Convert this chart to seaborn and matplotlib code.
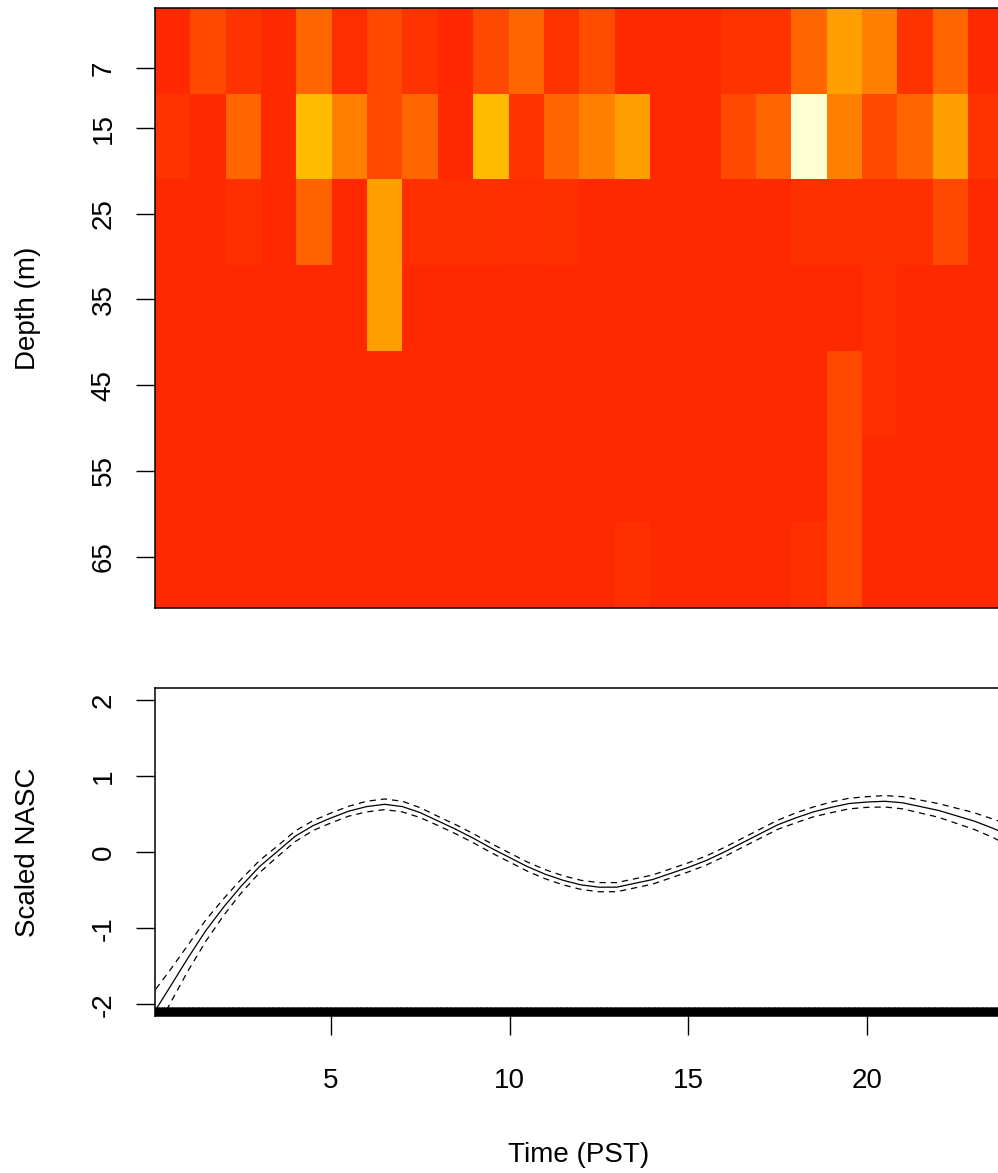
import numpy as np
import pandas as pd
import matplotlib
matplotlib.use("Agg")
import matplotlib.pyplot as plt
from matplotlib.colors import LinearSegmentedColormap
import seaborn as sns

# R heat.colors(12), the palette image() was drawn with
heat_colors = ["#FF0000", "#FF2000", "#FF4000", "#FF6000", "#FF8000", "#FF9F00",
               "#FFBF00", "#FFDF00", "#FFFF00", "#FFFF2A", "#FFFF80", "#FFFFD5"]

hours = list(range(24))
depth_bins = ["1-11", "11-21", "21-31", "31-41", "41-51", "51-61", "61-71"]
depth_labels = ["7", "15", "25", "35", "45", "55", "65"]
depth_tick_pos = [0.7, 1.4, 2.4, 3.4, 4.4, 5.4, 6.4]

# relative NASC per depth bin (0-1 colour scale)
nasc_d1 = [0.115, 0.21, 0.145, 0.12, 0.29, 0.13, 0.21, 0.145, 0.115, 0.21, 0.29, 0.145,
           0.22, 0.12, 0.12, 0.12, 0.145, 0.145, 0.29, 0.455, 0.365, 0.145, 0.29, 0.12]
nasc_d2 = [0.145, 0.12, 0.29, 0.12, 0.535, 0.365, 0.205, 0.29, 0.12, 0.535, 0.145, 0.29,
           0.365, 0.455, 0.12, 0.12, 0.205, 0.29, 1.0, 0.365, 0.205, 0.29, 0.455, 0.145]
nasc_d3 = [0.12, 0.12, 0.14, 0.12, 0.28, 0.12, 0.455, 0.14, 0.14, 0.14, 0.13, 0.14,
           0.12, 0.12, 0.12, 0.12, 0.12, 0.12, 0.14, 0.14, 0.14, 0.14, 0.205, 0.12]
nasc_d4 = [0.12, 0.12, 0.12, 0.12, 0.12, 0.12, 0.455, 0.12, 0.12, 0.12, 0.12, 0.12,
           0.12, 0.12, 0.12, 0.12, 0.12, 0.12, 0.12, 0.12, 0.13, 0.12, 0.12, 0.12]
nasc_d5 = [0.12, 0.12, 0.12, 0.12, 0.12, 0.12, 0.12, 0.12, 0.12, 0.12, 0.12, 0.12,
           0.12, 0.12, 0.12, 0.12, 0.12, 0.12, 0.12, 0.205, 0.13, 0.12, 0.12, 0.12]
nasc_d6 = [0.12, 0.12, 0.12, 0.12, 0.12, 0.12, 0.12, 0.12, 0.12, 0.12, 0.12, 0.12,
           0.12, 0.12, 0.12, 0.12, 0.12, 0.12, 0.12, 0.205, 0.12, 0.12, 0.12, 0.12]
nasc_d7 = [0.12, 0.12, 0.12, 0.12, 0.12, 0.12, 0.12, 0.12, 0.12, 0.12, 0.12, 0.12,
           0.12, 0.135, 0.12, 0.12, 0.12, 0.12, 0.135, 0.205, 0.12, 0.12, 0.12, 0.12]

# smooth fit of scaled NASC vs time, with its +/- 2 SE band
time_fit = [0.1, 0.5, 1.0, 1.5, 2.0, 2.5, 3.0, 3.5, 4.0, 4.5, 5.0, 5.5, 6.0, 6.5,
            7.0, 7.5, 8.0, 8.5, 9.0, 9.5, 10.0, 10.5, 11.0, 11.5, 12.0, 12.5, 13.0,
            13.5, 14.0, 14.5, 15.0, 15.5, 16.0, 16.5, 17.0, 17.5, 18.0, 18.5, 19.0,
            19.5, 20.0, 20.5, 21.0, 21.5, 22.0, 22.5, 23.0, 23.5, 24.0]
fit = [-2.07, -1.77, -1.39, -1.03, -0.72, -0.44, -0.19, 0.01, 0.21, 0.35, 0.45, 0.54,
       0.60, 0.63, 0.60, 0.52, 0.41, 0.30, 0.18, 0.05, -0.07, -0.19, -0.29, -0.37,
       -0.43, -0.46, -0.46, -0.41, -0.36, -0.28, -0.20, -0.11, 0.00, 0.12, 0.24, 0.36,
       0.45, 0.53, 0.59, 0.64, 0.66, 0.67, 0.65, 0.60, 0.55, 0.48, 0.41, 0.32, 0.22]
se2 = [0.27, 0.22, 0.17, 0.14, 0.11, 0.09, 0.08, 0.07, 0.07, 0.065, 0.065, 0.065,
       0.07, 0.07, 0.07, 0.065, 0.06, 0.06, 0.06, 0.06, 0.06, 0.06, 0.06, 0.06,
       0.06, 0.06, 0.06, 0.06, 0.06, 0.06, 0.06, 0.06, 0.06, 0.06, 0.06, 0.06,
       0.065, 0.065, 0.07, 0.07, 0.07, 0.075, 0.08, 0.085, 0.09, 0.1, 0.11, 0.12, 0.14]

# observation times (dense sampling, shows up as a solid rug)
obs_times = np.arange(0.0, 24.5, 0.02)

sns.set_theme(style="white")
plt.rcParams["font.family"] = ["Liberation Sans", "DejaVu Sans"]
plt.rcParams.update({"text.color": "black", "axes.labelcolor": "black",
                     "xtick.color": "black", "ytick.color": "black"})

W, H = 998, 1173
fig = plt.figure(figsize=(W / 100, H / 100), dpi=100)


def px_axes(left, top, right, bottom):
    return fig.add_axes([left / W, 1 - bottom / H, (right - left) / W, (bottom - top) / H])


# ---- top: depth x time heatmap ----
grid = pd.DataFrame([nasc_d1, nasc_d2, nasc_d3, nasc_d4, nasc_d5, nasc_d6, nasc_d7],
                    index=depth_bins, columns=hours)
cmap = LinearSegmentedColormap.from_list("heat", heat_colors)

ax1 = px_axes(155, 8, 155 + 24 * 35.35, 608)
sns.heatmap(grid, ax=ax1, cmap=cmap, vmin=0, vmax=1, cbar=False,
            xticklabels=False, yticklabels=False)
for s in ax1.spines.values():
    s.set_visible(True)
    s.set_color("black")
    s.set_linewidth(1.1)
ax1.set_yticks(depth_tick_pos)
ax1.set_yticklabels(depth_labels, rotation=90, va="center")
ax1.tick_params(axis="y", left=True, direction="out", length=13.5, width=1,
                pad=14, labelsize=20, color="black", labelcolor="black")
ax1.tick_params(axis="x", bottom=False)
ax1.set_xlabel("")
ax1.set_ylabel("Depth (m)", fontsize=20, va="center", color="black")
ax1.yaxis.set_label_coords((28 - 155) / (24 * 35.35), 0.5)

# ---- bottom: smooth of scaled NASC ----
x0_px, px_per_hr = 152.3, 35.73
xmin, xmax = 0.076, 24.5
ax2 = px_axes(155, 688, x0_px + xmax * px_per_hr, 1016.4)
sns.lineplot(x=time_fit, y=fit, ax=ax2, color="black", lw=0.9)
upper = [f + s for f, s in zip(fit, se2)]
lower = [f - s for f, s in zip(fit, se2)]
sns.lineplot(x=time_fit, y=upper, ax=ax2, color="black", lw=0.9, linestyle=(0, (5, 4)))
sns.lineplot(x=time_fit, y=lower, ax=ax2, color="black", lw=0.9, linestyle=(0, (5, 4)))
sns.rugplot(x=obs_times, ax=ax2, height=0.03, color="black", lw=2)
ax2.set_xlim(xmin, xmax)
ax2.set_ylim(-2.16, 2.16)
ax2.set_xticks([5, 10, 15, 20])
ax2.set_xticklabels(["5", "10", "15", "20"])
ax2.set_yticks([-2, -1, 0, 1, 2])
ax2.set_yticklabels(["-2", "-1", "0", "1", "2"], rotation=90, va="center")
for s in ax2.spines.values():
    s.set_visible(True)
    s.set_color("black")
    s.set_linewidth(1.1)
ax2.tick_params(axis="both", direction="out", length=13.5, width=1, labelsize=20,
                color="black", labelcolor="black", left=True, bottom=True)
ax2.tick_params(axis="y", pad=14)
ax2.tick_params(axis="x", pad=24)
ax2_w = (xmax - xmin) * px_per_hr
ax2_h = 1016.4 - 688
ax2.set_ylabel("Scaled NASC", fontsize=20, va="center", color="black")
ax2.yaxis.set_label_coords((28 - 155) / ax2_w, 0.5)
ax2.set_xlabel("Time (PST)", fontsize=20, va="center", color="black")
ax2.xaxis.set_label_coords((579 - 155) / ax2_w, (1016.4 - 1155) / ax2_h)

fig.savefig("out.png", dpi=100)
